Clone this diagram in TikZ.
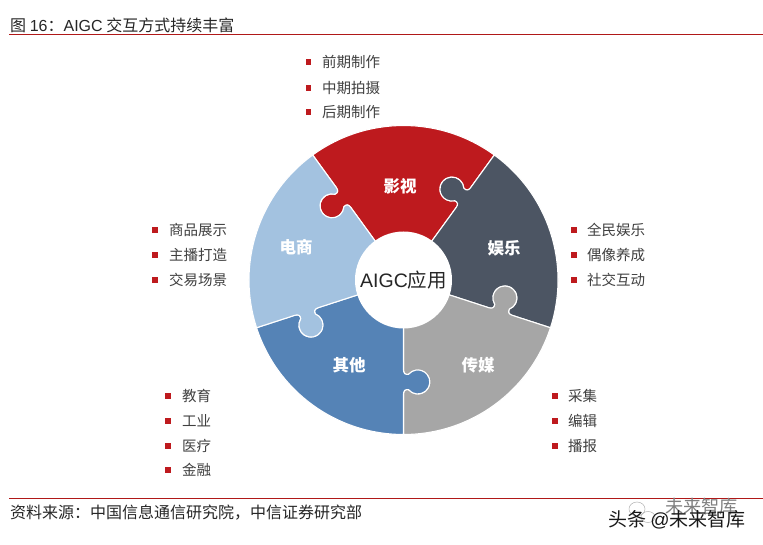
\documentclass[tikz,border=0pt]{standalone}
\usepackage{fontspec}
\setmainfont{Noto Sans CJK SC}
\newfontfamily\lat{Liberation Sans}
\definecolor{cred}{HTML}{BE1A1E}
\definecolor{cdark}{HTML}{4C5563}
\definecolor{cgray}{HTML}{A6A6A6}
\definecolor{cblue}{HTML}{5583B6}
\definecolor{clight}{HTML}{A3C2E0}
\definecolor{ctext}{HTML}{404040}
\definecolor{crule}{HTML}{B01818}
\tikzset{
  petal/.style={draw=white,line width=1.1pt,line join=round},
  hubtext/.style={circle,fill=white,minimum size=97pt,inner sep=0pt,font=\fontsize{19.5}{20}\selectfont,text=black!85},
  seclabel/.style={font=\fontsize{16.5}{17}\selectfont\bfseries,text=white,inner sep=0pt},
  item/.style={anchor=west,font=\fontsize{14.5}{15}\selectfont,text=ctext,inner sep=0pt},
  bulletbox/.style={fill=cred,minimum size=5.6pt,inner sep=0pt},
  rulebar/.style={draw=crule,line width=1pt},
  heading/.style={anchor=west,font=\fontsize{16}{17}\selectfont,text=black!85,inner sep=0pt},
  mark text/.style={anchor=west,inner sep=0pt}
}
\newcommand{\petalshape}[2]{%
  \begin{scope}[rotate=#1]
  \path[petal,fill=#2]
    (40,0) -- (90,0) .. controls (93.5,0) and (95,2) .. (94.3,5.1)
    arc[start angle=-130,end angle=-410,radius=12]
    .. controls (109,2) and (110.5,0) .. (114,0) -- (154.5,0)
    arc[start angle=0,end angle=72,radius=154.5]
    -- ([rotate=72]114,0) .. controls ([rotate=72]110.5,0) and ([rotate=72]109,2) .. ([rotate=72]109.7,5.1)
    arc[start angle=22,end angle=302,radius=12]
    .. controls ([rotate=72]95,2) and ([rotate=72]93.5,0) .. ([rotate=72]90,0)
    -- ([rotate=72]40,0) -- cycle;
  \end{scope}}
\newcommand{\listitem}[5]{%
  \node[bulletbox] (b#1) at (#2,-#4) {};
  \node[item] (t#1) at (#3,-#4) {#5};}
\begin{document}
\begin{tikzpicture}[x=1pt,y=1pt]
\useasboundingbox (0,0) rectangle (763,-545);
\fill[white] (0,0) rectangle (763,-545);
% header
\node[heading] (title) at (10,-25) {图 {\lat 16}：{\lat AIGC} 交互方式持续丰富};
\coordinate (r1a) at (9,-35); \coordinate (r1b) at (763,-35);
\draw[rulebar] (r1a) -- (r1b);
% wheel
\begin{scope}[shift={(403.5,-280)}]
  \petalshape{54}{cred}
  \petalshape{-18}{cdark}
  \petalshape{-90}{cgray}
  \petalshape{198}{cblue}
  \petalshape{126}{clight}
  \node[hubtext] (hub) at (0,0) {{\lat AIGC}应用};
\end{scope}
\node[seclabel] (s1) at (400,-186) {影视};
\node[seclabel] (s2) at (504,-248) {娱乐};
\node[seclabel] (s3) at (478,-365) {传媒};
\node[seclabel] (s4) at (349,-365) {其他};
\node[seclabel] (s5) at (296,-247) {电商};
% lists
\listitem{a1}{308.5}{322}{62}{前期制作}
\listitem{a2}{308.5}{322}{88}{中期拍摄}
\listitem{a3}{308.5}{322}{112}{后期制作}
\listitem{b1}{155}{169}{230}{商品展示}
\listitem{b2}{155}{169}{255}{主播打造}
\listitem{b3}{155}{169}{280}{交易场景}
\listitem{c1}{574}{587}{230}{全民娱乐}
\listitem{c2}{574}{587}{255}{偶像养成}
\listitem{c3}{574}{587}{280}{社交互动}
\listitem{d1}{555}{568}{396}{采集}
\listitem{d2}{555}{568}{421}{编辑}
\listitem{d3}{555}{568}{446}{播报}
\listitem{e1}{168}{182}{396}{教育}
\listitem{e2}{168}{182}{421}{工业}
\listitem{e3}{168}{182}{446}{医疗}
\listitem{e4}{168}{182}{470}{金融}
% footer
\coordinate (r2a) at (9,-498); \coordinate (r2b) at (763,-498);
\draw[rulebar] (r2a) -- (r2b);
\node[heading] (source) at (10,-513) {资料来源：中国信息通信研究院，中信证券研究部};
% watermark
\draw[black!30,line width=0.5pt] (637,-509) ellipse (8 and 7);
\draw[black!30,line width=0.5pt] (648,-517) ellipse (7 and 5.5);
\node[mark text,font=\fontsize{18.2}{18}\selectfont,text=black!50] (wm1) at (665,-507) {未来智库};
\node[mark text,font=\fontsize{19}{19}\selectfont,text=black!90] (wm2) at (608,-520) {头条 {\lat @}未来智库};
\end{tikzpicture}
\end{document}
